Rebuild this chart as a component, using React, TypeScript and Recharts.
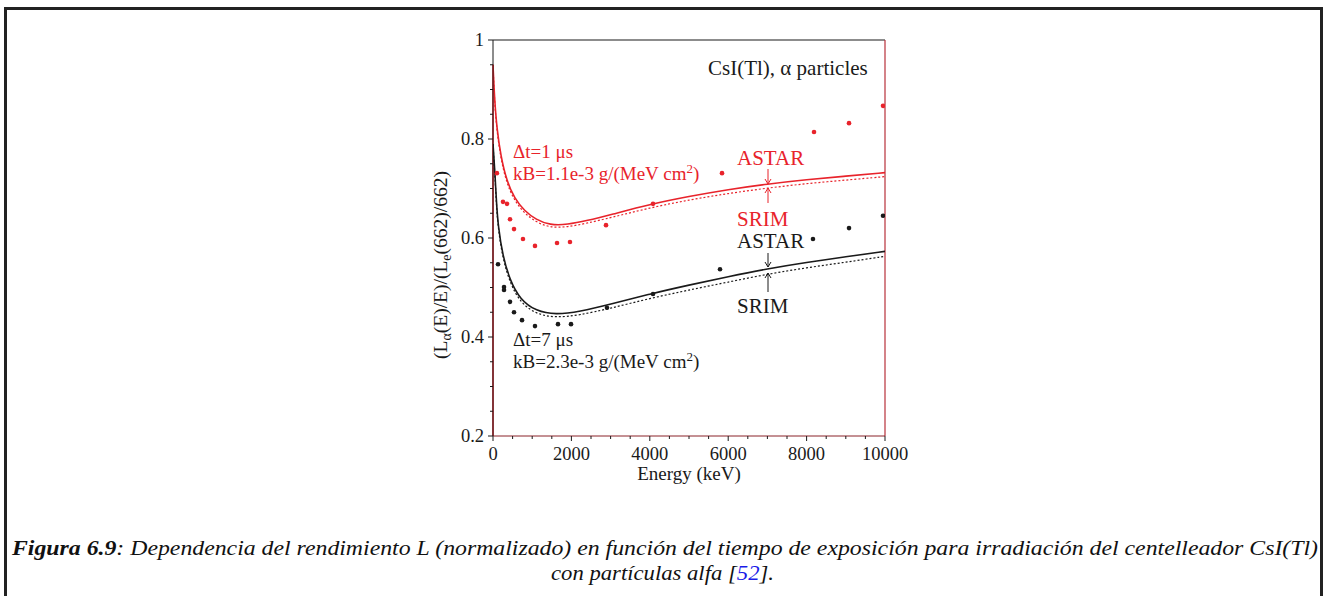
import React from "react";
import {
  ComposedChart,
  Line,
  Scatter,
  XAxis,
  YAxis,
  ReferenceLine,
} from "recharts";

// curves (energy in keV, normalized light yield)
const redAstarE = [0, 40, 100, 200, 350, 550, 800, 1100, 1450, 1900, 2400, 3000, 4000, 5000, 6000, 7000, 8000, 9000, 10000];
const redAstarL = [0.95, 0.88, 0.82, 0.765, 0.715, 0.68, 0.655, 0.637, 0.626, 0.627, 0.635, 0.647, 0.668, 0.684, 0.698, 0.709, 0.718, 0.725, 0.732];
const redSrimL = [0.95, 0.875, 0.815, 0.76, 0.71, 0.675, 0.65, 0.632, 0.621, 0.622, 0.63, 0.641, 0.661, 0.677, 0.69, 0.701, 0.71, 0.717, 0.724];

const blackAstarE = [0, 25, 50, 90, 130, 250, 430, 690, 1100, 1600, 2200, 3000, 4000, 5000, 6000, 7000, 8000, 9000, 10000];
const blackAstarL = [0.79, 0.76, 0.73, 0.67, 0.625, 0.563, 0.515, 0.476, 0.452, 0.445, 0.451, 0.466, 0.487, 0.505, 0.522, 0.538, 0.551, 0.562, 0.573];
const blackSrimL = [0.79, 0.755, 0.725, 0.665, 0.62, 0.558, 0.51, 0.47, 0.446, 0.439, 0.444, 0.458, 0.478, 0.495, 0.511, 0.527, 0.54, 0.551, 0.563];

// measured points
const redPtsE = [100, 255, 357, 434, 536, 765, 1071, 1633, 1964, 2883, 4082, 5842, 8189, 9082, 9949];
const redPtsL = [0.731, 0.673, 0.669, 0.638, 0.618, 0.598, 0.584, 0.59, 0.592, 0.626, 0.669, 0.731, 0.814, 0.832, 0.867];
const blackPtsE = [128, 281, 281, 434, 536, 740, 1071, 1658, 1990, 2908, 4082, 5791, 8163, 9082, 9949];
const blackPtsL = [0.547, 0.501, 0.495, 0.471, 0.45, 0.434, 0.422, 0.426, 0.426, 0.459, 0.487, 0.537, 0.598, 0.62, 0.645];

const xTicks = [0, 500, 1000, 1500, 2000, 2500, 3000, 3500, 4000, 4500, 5000, 5500, 6000, 6500, 7000, 7500, 8000, 8500, 9000, 9500, 10000];
const xMajor = [0, 2000, 4000, 6000, 8000, 10000];
const yTicks = [0.2, 0.25, 0.3, 0.35, 0.4, 0.45, 0.5, 0.55, 0.6, 0.65, 0.7, 0.75, 0.8, 0.85, 0.9, 0.95, 1];
const yMajor = [0.2, 0.4, 0.6, 0.8, 1];
const yMajorLabels = ["0.2", "0.4", "0.6", "0.8", "1"];

const RED = "#e8232b";
const INK = "#1a1a1a";
const SERIF = "Liberation Serif";

const zip = (es: number[], ls: number[]) => es.map((e, i) => ({ e, v: ls[i] }));

const redAstar = zip(redAstarE, redAstarL);
const redSrim = zip(redAstarE, redSrimL);
const blackAstar = zip(blackAstarE, blackAstarL);
const blackSrim = zip(blackAstarE, blackSrimL);
const redPts = zip(redPtsE, redPtsL);
const blackPts = zip(blackPtsE, blackPtsL);

const YTick = (props: any) => {
  const { x, y, payload } = props;
  const idx = yMajor.findIndex((m) => Math.abs(m - payload.value) < 1e-6);
  const major = idx >= 0;
  return (
    <g>
      <line x1={x - (major ? 5 : 3)} x2={x} y1={y} y2={y} stroke={INK} strokeWidth={1} />
      {major && (
        <text x={x - 9} y={y + 6} textAnchor="end" fontFamily={SERIF} fontSize={18.5} fill={INK}>
          {yMajorLabels[idx]}
        </text>
      )}
    </g>
  );
};

const XTick = (props: any) => {
  const { x, y, payload } = props;
  const major = xMajor.includes(payload.value);
  return (
    <g>
      <line x1={x} x2={x} y1={y} y2={y + (major ? 5 : 3)} stroke={INK} strokeWidth={1} />
      {major && (
        <text x={x} y={y + 24} textAnchor="middle" fontFamily={SERIF} fontSize={18.5} fill={INK}>
          {payload.value}
        </text>
      )}
    </g>
  );
};

const dot = (color: string) => (p: any) => <circle cx={p.cx} cy={p.cy} r={2.3} fill={color} />;

const Arrow = ({ x, y1, y2, color }: { x: number; y1: number; y2: number; color: string }) => {
  const dir = y2 > y1 ? 1 : -1;
  return (
    <g stroke={color} strokeWidth={1} fill="none">
      <line x1={x} x2={x} y1={y1} y2={y2} />
      <polyline points={`${x - 3},${y2 - dir * 5} ${x},${y2} ${x + 3},${y2 - dir * 5}`} />
    </g>
  );
};

export default function App() {
  return (
    <div style={{ position: "absolute", left: 0, top: 0, width: 1324, height: 596, background: "#fff", overflow: "hidden" }}>
      <div
        style={{
          position: "absolute",
          left: 4,
          top: 7,
          width: 1313,
          height: 620,
          borderLeft: "3px solid #222",
          borderTop: "3px solid #222",
          borderRight: "3px solid #222",
        }}
      />
      <div style={{ position: "absolute", left: 380, top: 20 }}>
        <ComposedChart width={540} height={470} margin={{ top: 20, right: 35, bottom: 4, left: 53 }}>
          <XAxis
            type="number"
            dataKey="e"
            domain={[0, 10000]}
            ticks={xTicks}
            interval={0}
            tickSize={0}
            tickMargin={0}
            tickLine={false}
            tick={<XTick />}
            height={50}
            stroke="#8a2228"
            allowDataOverflow
          />
          <YAxis
            type="number"
            dataKey="v"
            domain={[0.2, 1]}
            ticks={yTicks}
            interval={0}
            tickSize={0}
            tickMargin={0}
            tickLine={false}
            tick={<YTick />}
            width={60}
            stroke={INK}
            allowDataOverflow
          />
          <ReferenceLine y={1} stroke={INK} strokeWidth={1.2} />
          <ReferenceLine x={10000} stroke="#b8303a" strokeWidth={1.2} />
          <ReferenceLine segment={[{ x: 0, y: 0.2 }, { x: 0, y: 0.95 }]} stroke={RED} strokeWidth={1.6} />
          <Line data={redSrim} dataKey="v" type="basis" stroke={RED} strokeWidth={1.2} strokeDasharray="2 2" dot={false} isAnimationActive={false} />
          <Line data={redAstar} dataKey="v" type="basis" stroke={RED} strokeWidth={1.6} dot={false} isAnimationActive={false} />
          <Line data={blackSrim} dataKey="v" type="basis" stroke={INK} strokeWidth={1.2} strokeDasharray="2 2" dot={false} isAnimationActive={false} />
          <Line data={blackAstar} dataKey="v" type="basis" stroke={INK} strokeWidth={1.6} dot={false} isAnimationActive={false} />
          <Scatter data={redPts} dataKey="v" shape={dot(RED)} isAnimationActive={false} />
          <Scatter data={blackPts} dataKey="v" shape={dot(INK)} isAnimationActive={false} />
        </ComposedChart>
      </div>
      <svg width={1324} height={596} style={{ position: "absolute", left: 0, top: 0, pointerEvents: "none" }}>
        <g fontFamily={SERIF} fill={INK}>
          <text x={708} y={75} fontSize={21}>CsI(Tl), α particles</text>
          <text x={689} y={480} fontSize={19} textAnchor="middle">Energy (keV)</text>
          <text transform="translate(447,265) rotate(-90)" textAnchor="middle" fontSize={19.5}>
            (L<tspan dy={4} fontSize={14}>α</tspan>
            <tspan dy={-4}>(E)/E)/(L</tspan>
            <tspan dy={4} fontSize={14}>e</tspan>
            <tspan dy={-4}>(662)/662)</tspan>
          </text>
        </g>
        <g fontFamily={SERIF} fontSize={19} fill={RED}>
          <text x={513} y={158}>Δt=1 μs</text>
          <text x={513} y={180}>
            kB=1.1e-3 g/(MeV cm<tspan dy={-7} fontSize={13}>2</tspan>
            <tspan dy={7}>)</tspan>
          </text>
          <text x={737} y={165} fontSize={21}>ASTAR</text>
          <text x={737} y={226} fontSize={21}>SRIM</text>
        </g>
        <g fontFamily={SERIF} fontSize={19} fill={INK}>
          <text x={513} y={346}>Δt=7 μs</text>
          <text x={513} y={368}>
            kB=2.3e-3 g/(MeV cm<tspan dy={-7} fontSize={13}>2</tspan>
            <tspan dy={7}>)</tspan>
          </text>
          <text x={737} y={248} fontSize={21}>ASTAR</text>
          <text x={737} y={313} fontSize={21}>SRIM</text>
        </g>
        <Arrow x={768} y1={169} y2={184} color={RED} />
        <Arrow x={768} y1={203} y2={188} color={RED} />
        <Arrow x={768} y1={253} y2={267} color={INK} />
        <Arrow x={768} y1={292} y2={273} color={INK} />
        <g fontFamily={SERIF} fontStyle="italic" fontSize={21} fill="#111">
          <text x={12} y={555} textLength={1306} lengthAdjust="spacingAndGlyphs">
            <tspan fontWeight="bold">Figura 6.9</tspan>: Dependencia del rendimiento L (normalizado) en función del tiempo de exposición para irradiación del centelleador CsI(Tl)
          </text>
          <text x={551} y={580} textLength={223} lengthAdjust="spacingAndGlyphs">
            con partículas alfa [<tspan fill="#1a1ae8">52</tspan>].
          </text>
        </g>
      </svg>
    </div>
  );
}
